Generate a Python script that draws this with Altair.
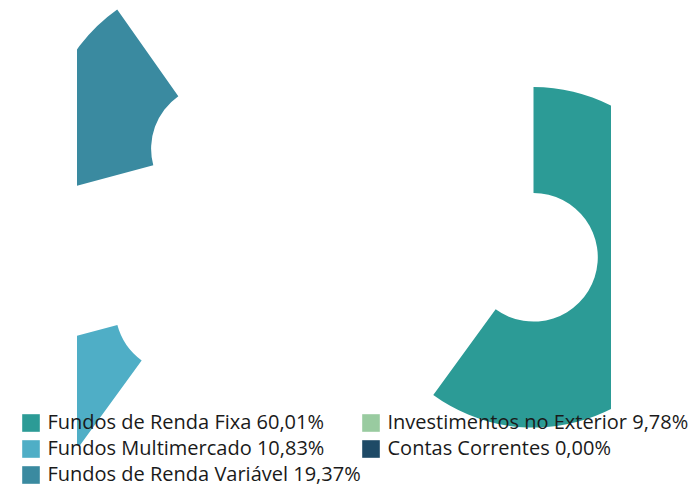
import math
import altair as alt
import pandas as pd

# ---- data ----
categories = [
    "Fundos de Renda Fixa",
    "Fundos Multimercado",
    "Fundos de Renda Variável",
    "Investimentos no Exterior",
    "Contas Correntes",
]
values = [60.01, 10.83, 19.37, 9.78, 0.00]
colors = ["#2C9B96", "#4FAEC6", "#3A8AA0", "#99CBA0", "#1E4A66"]

# ---- layout: where each slice's (displaced) centre sits inside the plot area ----
center_x = [456.5, 102.5, 138.4, -300.0, -300.0]
center_y = [249.3, 300.5, 140.7, 200.0, 200.0]

labels = [f"{c} {v:.2f}%".replace(".", ",") for c, v in zip(categories, values)]
total = sum(values)

df = pd.DataFrame({
    "order": list(range(len(categories))),
    "label": labels,
    "value": values,
    "cx": center_x,
    "cy": center_y,
})

chart = (
    alt.Chart(df)
    .transform_window(cum="sum(value)", sort=[alt.SortField("order")])
    .transform_calculate(start="datum.cum - datum.value")
    .mark_arc(innerRadius=64.3, outerRadius=170.3, clip=True)
    .encode(
        theta=alt.Theta("start:Q", scale=alt.Scale(domain=[0, total], range=[0, 2 * math.pi])),
        theta2="cum:Q",
        x=alt.X("cx:Q", scale=None, axis=None),
        y=alt.Y("cy:Q", scale=None, axis=None),
        color=alt.Color(
            "label:N",
            scale=alt.Scale(domain=labels, range=colors),
            legend=alt.Legend(
                title=None,
                orient="none",
                legendX=-56,
                legendY=405,
                columns=2,
                symbolType="square",
                symbolSize=310,
                symbolStrokeWidth=0,
                labelFont="Open Sans",
                labelFontSize=20,
                labelColor="#1a1a1a",
                labelOffset=6.5,
                labelLimit=0,
                rowPadding=6,
                columnPadding=0,
                padding=0,
            ),
        ),
    )
    .properties(
        width=534,
        height=460,
        autosize=alt.AutoSizeParams(type="none"),
        padding={"left": 69, "top": 0, "right": 78, "bottom": 16},
    )
    .configure_view(stroke=None)
)

chart.save("out.html", embed_options={"renderer": "svg", "actions": False})
